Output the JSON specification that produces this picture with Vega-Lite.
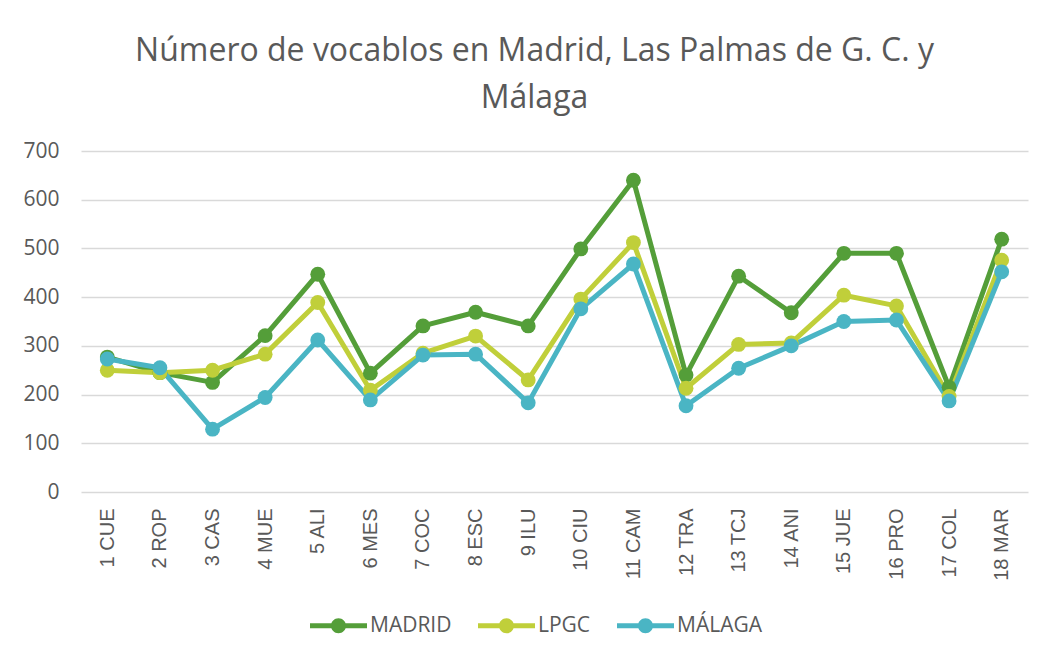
{
  "$schema": "https://vega.github.io/schema/vega-lite/v6.json",
  "width": 947,
  "height": 341,
  "autosize": "none",
  "padding": {"left": 81, "top": 151, "right": 21, "bottom": 167},
  "background": "white",
  "title": {
    "text": ["Número de vocablos en Madrid, Las Palmas de G. C. y", "Málaga"],
    "font": "Open Sans",
    "fontSize": 32,
    "fontWeight": "normal",
    "color": "#595959",
    "lineHeight": 47,
    "anchor": "middle",
    "frame": "group",
    "dx": -20,
    "offset": 25
  },
  "config": {
    "view": {"stroke": null}
  },
  "data": {
    "values": [
      {"cat": "1 CUE", "serie": "MADRID", "value": 277},
      {"cat": "2 ROP", "serie": "MADRID", "value": 245},
      {"cat": "3 CAS", "serie": "MADRID", "value": 225},
      {"cat": "4 MUE", "serie": "MADRID", "value": 321},
      {"cat": "5 ALI", "serie": "MADRID", "value": 447},
      {"cat": "6 MES", "serie": "MADRID", "value": 244},
      {"cat": "7 COC", "serie": "MADRID", "value": 341},
      {"cat": "8 ESC", "serie": "MADRID", "value": 369},
      {"cat": "9 ILU", "serie": "MADRID", "value": 341},
      {"cat": "10 CIU", "serie": "MADRID", "value": 499},
      {"cat": "11 CAM", "serie": "MADRID", "value": 640},
      {"cat": "12 TRA", "serie": "MADRID", "value": 240},
      {"cat": "13 TCJ", "serie": "MADRID", "value": 443},
      {"cat": "14 ANI", "serie": "MADRID", "value": 368},
      {"cat": "15 JUE", "serie": "MADRID", "value": 490},
      {"cat": "16 PRO", "serie": "MADRID", "value": 490},
      {"cat": "17 COL", "serie": "MADRID", "value": 215},
      {"cat": "18 MAR", "serie": "MADRID", "value": 519},
      {"cat": "1 CUE", "serie": "LPGC", "value": 250},
      {"cat": "2 ROP", "serie": "LPGC", "value": 245},
      {"cat": "3 CAS", "serie": "LPGC", "value": 250},
      {"cat": "4 MUE", "serie": "LPGC", "value": 283},
      {"cat": "5 ALI", "serie": "LPGC", "value": 389},
      {"cat": "6 MES", "serie": "LPGC", "value": 209},
      {"cat": "7 COC", "serie": "LPGC", "value": 285},
      {"cat": "8 ESC", "serie": "LPGC", "value": 320},
      {"cat": "9 ILU", "serie": "LPGC", "value": 230},
      {"cat": "10 CIU", "serie": "LPGC", "value": 396},
      {"cat": "11 CAM", "serie": "LPGC", "value": 512},
      {"cat": "12 TRA", "serie": "LPGC", "value": 213},
      {"cat": "13 TCJ", "serie": "LPGC", "value": 303},
      {"cat": "14 ANI", "serie": "LPGC", "value": 306},
      {"cat": "15 JUE", "serie": "LPGC", "value": 404},
      {"cat": "16 PRO", "serie": "LPGC", "value": 382},
      {"cat": "17 COL", "serie": "LPGC", "value": 196},
      {"cat": "18 MAR", "serie": "LPGC", "value": 476},
      {"cat": "1 CUE", "serie": "MÁLAGA", "value": 273},
      {"cat": "2 ROP", "serie": "MÁLAGA", "value": 255},
      {"cat": "3 CAS", "serie": "MÁLAGA", "value": 129},
      {"cat": "4 MUE", "serie": "MÁLAGA", "value": 194},
      {"cat": "5 ALI", "serie": "MÁLAGA", "value": 312},
      {"cat": "6 MES", "serie": "MÁLAGA", "value": 189},
      {"cat": "7 COC", "serie": "MÁLAGA", "value": 281},
      {"cat": "8 ESC", "serie": "MÁLAGA", "value": 283},
      {"cat": "9 ILU", "serie": "MÁLAGA", "value": 183},
      {"cat": "10 CIU", "serie": "MÁLAGA", "value": 376},
      {"cat": "11 CAM", "serie": "MÁLAGA", "value": 468},
      {"cat": "12 TRA", "serie": "MÁLAGA", "value": 177},
      {"cat": "13 TCJ", "serie": "MÁLAGA", "value": 254},
      {"cat": "14 ANI", "serie": "MÁLAGA", "value": 300},
      {"cat": "15 JUE", "serie": "MÁLAGA", "value": 350},
      {"cat": "16 PRO", "serie": "MÁLAGA", "value": 353},
      {"cat": "17 COL", "serie": "MÁLAGA", "value": 187},
      {"cat": "18 MAR", "serie": "MÁLAGA", "value": 452}
    ]
  },
  "mark": {
    "type": "line",
    "strokeWidth": 5,
    "strokeJoin": "round",
    "strokeCap": "round",
    "point": {"filled": true, "size": 220, "opacity": 1}
  },
  "encoding": {
    "x": {
      "field": "cat",
      "type": "nominal",
      "sort": null,
      "scale": {"paddingInner": 0, "paddingOuter": 0.5},
      "axis": {
        "title": null,
        "labelAngle": -90,
        "labelAlign": "right",
        "labelBaseline": "middle",
        "labelFont": "Liberation Sans",
        "labelFontSize": 20,
        "labelColor": "#595959",
        "labelPadding": 16,
        "ticks": false,
        "domain": false,
        "grid": false
      }
    },
    "y": {
      "field": "value",
      "type": "quantitative",
      "scale": {"domain": [0, 700], "nice": false},
      "axis": {
        "title": null,
        "values": [0, 100, 200, 300, 400, 500, 600, 700],
        "labelFont": "Open Sans",
        "labelFontSize": 21,
        "labelColor": "#595959",
        "labelPadding": 22,
        "ticks": false,
        "domain": false,
        "grid": true,
        "gridColor": "#D9D9D9",
        "gridWidth": 1.5
      }
    },
    "color": {
      "field": "serie",
      "type": "nominal",
      "scale": {
        "domain": ["MADRID", "LPGC", "MÁLAGA"],
        "range": ["#549E39", "#C0CF3A", "#4AB5C4"]
      },
      "legend": {
        "title": null,
        "orient": "none",
        "direction": "horizontal",
        "legendX": 229,
        "legendY": 446,
        "padding": 0,
        "labelFont": "Open Sans",
        "labelFontSize": 21,
        "labelColor": "#595959",
        "labelOffset": 3,
        "columnPadding": 26,
        "symbolType": "M-1,-0.088 L1,-0.088 L1,0.088 L-1,0.088 Z M-0.263,0 A0.263,0.263 0 1,1 0.263,0 A0.263,0.263 0 1,1 -0.263,0 Z",
        "symbolSize": 3249,
        "symbolStrokeWidth": 0,
        "encode": {
          "symbols": {
            "update": {
              "fill": {"scale": "color", "field": "value"},
              "stroke": {"value": "transparent"},
              "opacity": {"value": 1}
            }
          }
        }
      }
    }
  }
}
